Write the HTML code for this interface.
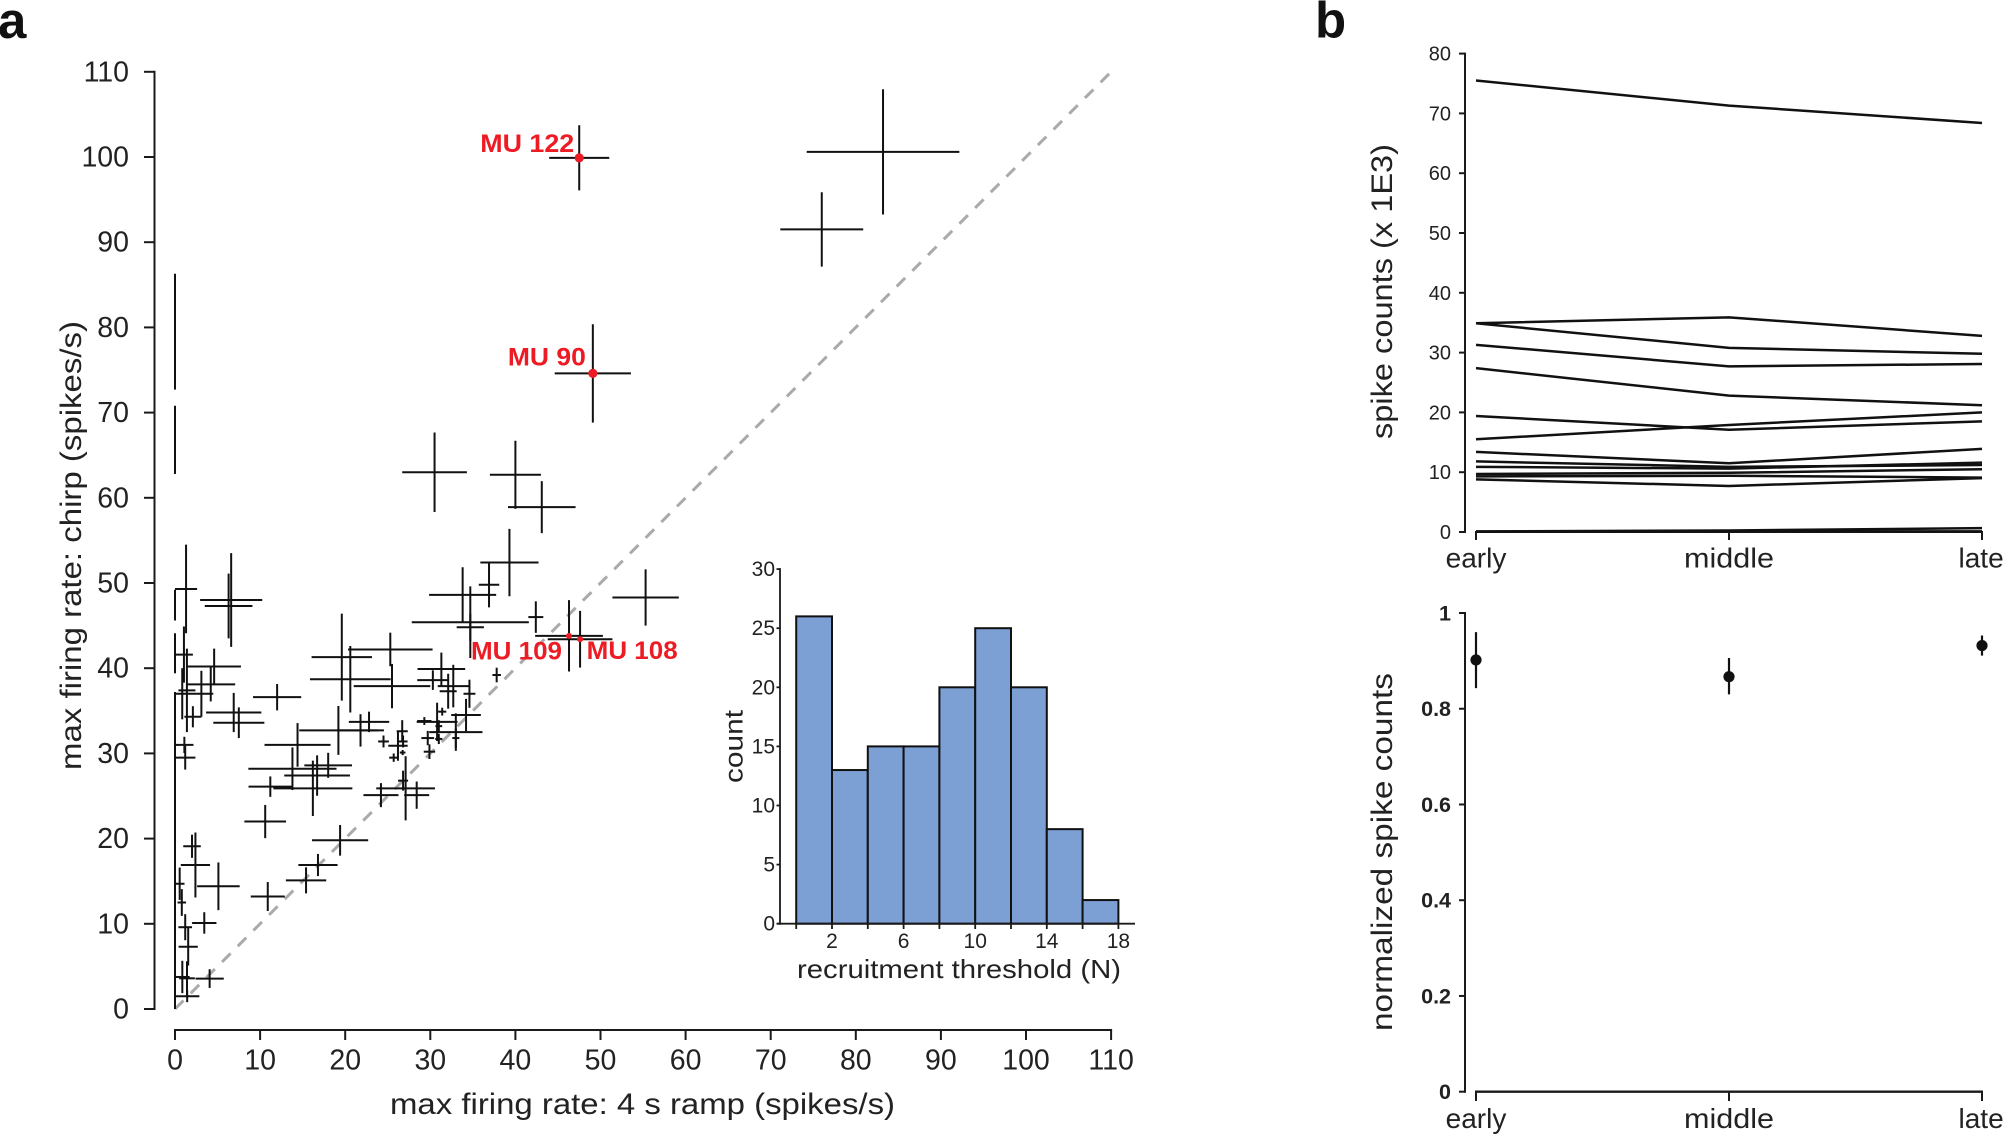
<!DOCTYPE html>
<html lang="en">
<head>
<meta charset="utf-8">
<title>Motor unit firing rates and spike counts</title>
<style>
html,body{margin:0;padding:0;background:#fff;}
body{width:2005px;height:1136px;overflow:hidden;}
svg{display:block;}
text{font-family:"Liberation Sans",sans-serif;fill:#222;}
</style>
</head>
<body>
<svg id="figure" xmlns="http://www.w3.org/2000/svg" width="2005" height="1136" viewBox="0 0 2005 1136">
  <rect x="0" y="0" width="2005" height="1136" fill="#fff"/>
  <text x="-2" y="38" font-size="51" font-weight="bold" style="fill:#111">a</text>
  <text x="1315" y="37.5" font-size="51" font-weight="bold" style="fill:#111">b</text>
  <text x="0" y="0" transform="translate(81 770) rotate(-90)" font-size="30" textLength="449" lengthAdjust="spacingAndGlyphs">max firing rate: chirp (spikes/s)</text>
  <text x="390" y="1114" font-size="30" textLength="505" lengthAdjust="spacingAndGlyphs">max firing rate: 4 s ramp (spikes/s)</text>
  <text x="0" y="0" transform="translate(742.5 783) rotate(-90)" font-size="26" textLength="73" lengthAdjust="spacingAndGlyphs">count</text>
  <text x="797" y="978" font-size="26" textLength="324" lengthAdjust="spacingAndGlyphs">recruitment threshold (N)</text>
  <text x="0" y="0" transform="translate(1392 439) rotate(-90)" font-size="30" textLength="295" lengthAdjust="spacingAndGlyphs">spike counts (x 1E3)</text>
  <text x="0" y="0" transform="translate(1392 1031) rotate(-90)" font-size="30" textLength="358" lengthAdjust="spacingAndGlyphs">normalized spike counts</text>
</svg>
<script>
/* ---------- panel a: scatter values ---------- */
const scatterTicks = [0,10,20,30,40,50,60,70,80,90,100,110];
const identityLine = [0,110];
const crossX = [
47.5,83.2,76,49.1,30.5,40,43.1,0,0,39.3,
36.9,33.8,34.7,34.7,42.4,46.3,47.6,55.3,37.8,1.3,
0,0,1.05,1.4,2.25,3.1,0.85,0,6.6,6.3,
4.6,4.2,2.1,6.9,7.5,12,1.1,1.2,19.6,25.3,
20.6,25.5,31.3,30.3,32.7,32.1,34.6,34.2,33,31.4,
30.8,29.3,31,29.7,31,29.9,33,22.8,21.8,19.2,
14.4,13.8,18,16.7,16.2,11.2,10.6,19.4,16.8,15.4,
10.9,5.1,2.4,2,0.55,0.8,1.2,3.44,1.55,4.07,
0.86,1.41,1.43,24.5,26.2,25.7,26.75,26.8,26.7,26.8,
27.1,24.2,28.4];
const crossY = [
99.9,100.6,91.5,74.6,63,62.7,58.9,79.5,66.8,52.4,
49.8,48.6,45.4,44.8,46,43.8,43.4,48.3,39.2,49.3,
47.4,41.75,41.6,37.4,37,37,37,18.6,48,47.3,
40.2,38.1,34.3,34.8,33.6,36.6,31,29.5,41.3,42.2,
38.7,37.9,39.9,38.6,37.9,37.3,37,34.5,32.5,34.9,
33.7,33.8,33.2,31.8,31.7,30.2,31.8,33.7,32.7,32.7,
31,28.2,28.6,27.4,25.9,26.1,22,19.8,16.9,15.1,
13.2,14.4,16.9,19.1,14.7,12.5,9.6,10.1,7.3,3.57,
3.76,3.6,1.5,31.4,30.9,29.5,30.1,31.4,32.6,26.8,
25.9,25.1,25.1];
const crossXErr = [
3.53,8.97,4.87,4.48,3.8,3,3.97,0,0,3.42,
1.2,3.94,6.88,1.6,0.88,3.98,3.8,3.9,0.5,1.3,
0,0,1.05,1,2.25,0,0,0,3.65,2.8,
3.15,2.87,1,3.25,3,2.83,1.07,1.2,3.55,4.97,
4.74,4.5,2.8,1.83,1.83,1,0.7,1.74,3.13,0.48,
2.4,0.84,0.4,0.75,0.42,0.67,0.42,2.37,2.75,4.6,
3.88,5.18,2.8,3.86,4.64,2.56,2.45,3.3,2.3,2.37,
2,2.5,1.72,1.03,0.57,0.5,0.8,1.43,1.13,1.66,
0.86,0.92,1.43,0.63,1.14,0.53,0.33,0.53,0.65,0.59,
3.45,2.06,1.47];
const crossYErr = [
3.82,7.35,4.36,5.77,4.67,4,3.05,6.8,4,3.95,
2.66,3.25,4.2,1.6,1.85,4.19,3.33,3.3,0.86,5.2,
1.8,2.35,3.3,4.9,0,2.7,3,18.6,5.5,3.8,
2.1,2,1.24,2.3,1.8,1.55,0.95,1.4,5.1,1.97,
3.9,2.6,1.93,1.15,2.5,2.05,1.65,1.9,2.2,0.46,
2.25,0.46,0.7,0.84,0.6,0.86,1.15,1.2,1.9,2.87,
2.56,2.5,1.47,2.37,3.25,1.2,1.95,1.8,1.3,1.53,
1.7,2.8,3.82,1.36,1.9,1.57,1.53,1.26,2.2,1.1,
1.9,2,0.7,0.7,1.76,0.49,0.3,0.7,1.3,1.17,
3.76,1.41,1.6];

/* ---------- panel a inset: histogram values ---------- */
const histEdges = [0,2,4,6,8,10,12,14,16,18];
const histCounts = [26,13,15,15,20,25,20,8,2];
const histYTicks = [0,5,10,15,20,25,30];
const histXLabels = [2,6,10,14,18];

/* ---------- panel b: spike counts ---------- */
const phases = ['early','middle','late'];
const spikeTicks = [0,10,20,30,40,50,60,70,80];
const spikeEarly  = [75.5,34.9,34.9,31.3,27.4,19.4,15.5,13.4,11.8,10.9,9.7,9.3,8.8,0.1,0.05];
const spikeMiddle = [71.3,35.9,30.8,27.7,22.8,17.1,17.9,11.5,10.9,10.6,9.9,9.4,7.7,0.25,0.1];
const spikeLate   = [68.4,32.8,29.8,28.1,21.2,18.5,20,13.9,11.2,11.6,10.5,9.1,9,0.65,0.1];

/* ---------- panel b: normalized counts ---------- */
const normTicks = ['0','0.2','0.4','0.6','0.8','1'];
const normMean = [0.902,0.867,0.932];
const normHigh = [0.96,0.906,0.953];
const normLow  = [0.843,0.83,0.911];

/* ---------- helpers ---------- */
const SVGNS = 'http://www.w3.org/2000/svg';
const root = document.getElementById('figure');
const INK = '#1a1a1a';
function make(tag, parent, props) {
  const el = document.createElementNS(SVGNS, tag);
  for (const k in props) el.setAttribute(k, props[k]);
  (parent || root).appendChild(el);
  return el;
}
function seg(parent, x1, y1, x2, y2, w, color) {
  return make('line', parent, {x1:x1, y1:y1, x2:x2, y2:y2, stroke:color || INK, 'stroke-width':w || 2});
}
function label(parent, str, x, y, size, anchor, weight) {
  const t = make('text', parent, {x:x, y:y, 'font-size':size, 'text-anchor':anchor || 'middle'});
  if (weight) t.setAttribute('font-weight', weight);
  t.textContent = str;
  return t;
}
function group(parent) {
  return make('g', parent, {});
}
function phaseLabel(parent, name, i, y) {
  const l = label(parent, name, phaseX(i), y, 28, i === 2 ? 'start' : 'middle');
  if (i === 2) l.setAttribute('x', 1958.5);
  if (name === 'middle') {
    l.setAttribute('textLength', 90);
    l.setAttribute('lengthAdjust', 'spacingAndGlyphs');
  }
  return l;
}

/* ---------- axis functions ---------- */
const sx = v => 175 + v * 8.51;
const sy = v => 1009 - v * 8.52;
const hx = v => 796.2 + v * 17.9;
const hy = v => 923.7 - v * 11.82;
const phaseX = i => 1476 + i * 253;
const cy = v => 532 - v * 5.98;
const ny = v => 1091.7 - v * 478.7;

/* ---------- panel a scatter ---------- */
const scatter = group();



const yAxisA = seg(scatter, 154.5, sy(110) - 1, 154.5, sy(0) + 1, 2);


const xAxisA = seg(scatter, sx(0) - 1, 1030, sx(110) + 1, 1030, 2);



scatterTicks.forEach(v => {
  const ty = seg(scatter, 144, sy(v), 154.5, sy(v), 2);
  
  
  const ly = label(scatter, String(v), 129, sy(v) + 9.5, 28.5, 'end');
  
  
  const tx = seg(scatter, sx(v), 1030, sx(v), 1040, 2);
  
  
  const lx = label(scatter, String(v), sx(v), 1069.5, 28.5, 'middle');
  
  
});

const diag = seg(scatter, sx(identityLine[0]), sy(identityLine[0]), sx(identityLine[1]), sy(identityLine[1]), 3, '#aaaaaa');
diag.setAttribute('stroke-dasharray', '12 10.2');



crossX.forEach((x, i) => {
  const c = group(scatter);
  
  
  const y = crossY[i], dx = crossXErr[i], dy = crossYErr[i];
  if (dx > 0) seg(c, sx(x - dx), sy(y), sx(x + dx), sy(y), 2, '#111');
  if (dy > 0) seg(c, sx(x), sy(y - dy), sx(x), sy(y + dy), 2, '#111');
});

function annotate(name, x, y, r, ox, oy, anchor, width, slug) {
  const d = make('circle', scatter, {cx:sx(x), cy:sy(y), r:r, fill:'#ed1c24'});
  
  
  const t = label(scatter, name, sx(x) + ox, sy(y) + oy, 25, anchor, 'bold');
  t.setAttribute('textLength', width);
  t.setAttribute('lengthAdjust', 'spacingAndGlyphs');
  t.style.fill = '#ed1c24';
  
  
}
annotate('MU 122', 47.5, 99.9, 4.6, -5, -6, 'end', 94, 'mu-122');
annotate('MU 90', 49.1, 74.6, 4.6, -7, -8, 'end', 78, 'mu-90');
annotate('MU 109', 46.3, 43.8, 3, -7, 23.5, 'end', 91, 'mu-109');
annotate('MU 108', 47.6, 43.4, 3, 6.6, 20, 'start', 91, 'mu-108');

/* ---------- inset histogram ---------- */
const hist = group();



histCounts.forEach((n, i) => {
  const r = make('rect', hist, {
    x: hx(histEdges[i]), y: hy(n),
    width: hx(histEdges[i + 1]) - hx(histEdges[i]),
    height: hy(0) - hy(n),
    fill: '#7c9fd4', stroke: '#111', 'stroke-width': 2
  });
  
  
});
const hyAxis = seg(hist, 780, hy(30) - 1, 780, hy(0) + 1, 1.8);


const hxAxis = seg(hist, 777, hy(0), 1135, hy(0), 1.8);


histYTicks.forEach(v => {
  const t = seg(hist, 776.5, hy(v), 780, hy(v), 1.8);
  
  
  const l = label(hist, String(v), 775, hy(v) + 7, 21, 'end');
  
  
});
histEdges.forEach(v => {
  const t = seg(hist, hx(v), hy(0), hx(v), 929, 1.8);
  
  
});
histXLabels.forEach(v => {
  const l = label(hist, String(v), hx(v), 948, 21, 'middle');
  
  
});

/* ---------- panel b top ---------- */
const counts = group();



const cyAxis = seg(counts, 1465, cy(80) - 1, 1465, cy(0) + 1, 2);


const cxAxis = seg(counts, phaseX(0) - 1, cy(0), phaseX(2) + 1, cy(0), 2);


spikeTicks.forEach(v => {
  const t = seg(counts, 1459, cy(v), 1465, cy(v), 2);
  
  
  const l = label(counts, String(v), 1451, cy(v) + 7, 20, 'end');
  
  
});
spikeEarly.forEach((v, i) => {
  const pts = [v, spikeMiddle[i], spikeLate[i]].map((val, k) => phaseX(k) + ',' + cy(val)).join(' ');
  const p = make('polyline', counts, {points: pts, fill: 'none', stroke: '#111', 'stroke-width': 2.5});
  
  
});
phases.forEach((name, i) => {
  const t = seg(counts, phaseX(i), cy(0), phaseX(i), 540, 2);
  
  
  const l = phaseLabel(counts, name, i, 567.5);
  
  
});

/* ---------- panel b bottom ---------- */
const norm = group();



const nyAxis = seg(norm, 1465, ny(1) - 1, 1465, ny(0) + 1, 2);


const nxAxis = seg(norm, phaseX(0) - 1, ny(0), phaseX(2) + 1, ny(0), 2.4);


normTicks.forEach(s => {
  const v = parseFloat(s);
  const t = seg(norm, 1459, ny(v), 1465, ny(v), 2);
  
  
  const l = label(norm, s, 1451, ny(v) + 7.5, 21.5, 'end', 'bold');
  
  
});
normMean.forEach((m, i) => {
  const e = seg(norm, phaseX(i), ny(normLow[i]), phaseX(i), ny(normHigh[i]), 2.2, '#111');
  
  
  const d = make('circle', norm, {cx: phaseX(i), cy: ny(m), r: 5.6, fill: '#111'});
  
  
});
phases.forEach((name, i) => {
  const t = seg(norm, phaseX(i), ny(0), phaseX(i), 1101, 2);
  
  
  const l = phaseLabel(norm, name, i, 1128);
  
  
});
</script>
</body>
</html>
